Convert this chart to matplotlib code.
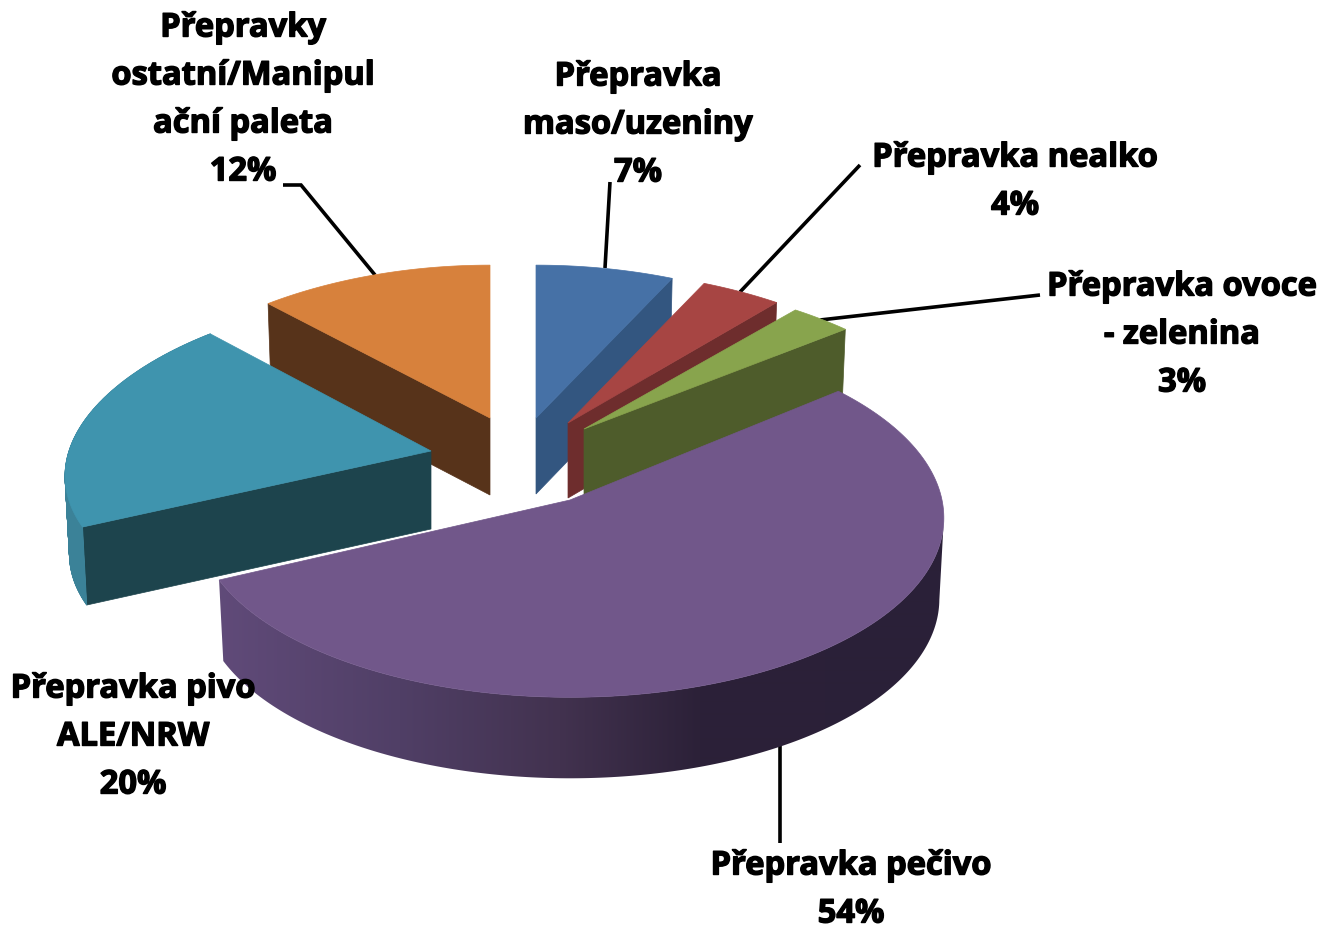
import numpy as np
import matplotlib
matplotlib.use("Agg")
import matplotlib.pyplot as plt
from matplotlib.patches import Polygon
from matplotlib.collections import PolyCollection
from matplotlib.colors import to_rgb
import matplotlib.patheffects as pe

# Data (clockwise from 12 o'clock)
names = ["Přepravka\nmaso/uzeniny", "Přepravka nealko", "Přepravka ovoce\n- zelenina",
         "Přepravka pečivo", "Přepravka pivo\nALE/NRW", "Přepravky\nostatní/Manipul\nační paleta"]
values = [7, 4, 3, 54, 20, 12]

# Styles
top_colors = ["#4671a6", "#a74543", "#88a44d", "#71578a", "#3f94ae", "#d7813c"]
wall_colors = ["#335680", "#6e2d2d", "#4e5c2b", "#2a2038", "#1d444d", "#57331a"]
apex_x = [536, 568, 584, 570, 431, 490]
apex_y = [418, 423, 429, 500, 451, 418]
radius_x = [370, 370, 375, 372, 362, 364]
radius_y = [168, 168, 166, 181, 172, 168]
perspective = [0.15, 0.15, 0.15, 0.10, 0.15, 0.15]
depths = [76, 75, 75, 81, 78, 77]
cut_edge = ["end", "end", "end", None, "start", "start"]   # the visible cut face
draw_order = [0, 5, 1, 2, 4, 3]
label_xy = [(638, 125), (1015, 182), (1182, 335), (851, 890), (133, 737), (243, 100)]
leaders = [[(610, 182), (605, 268)],
           [(860, 165), (740, 292)],
           [(1040, 295), (820, 320)],
           [(780, 745), (780, 843)],
           None,
           [(283, 185), (301, 185), (375, 275)]]

Q, SHRINK = 0.09, 0.012

fig = plt.figure(figsize=(13.22, 9.31), dpi=100, facecolor="white")
ax = fig.add_axes([0, 0, 1, 1])


def rim(i, t):
    """Projected rim point of slice i at clockwise angle t (radians from top)."""
    x = apex_x[i] + radius_x[i] * np.sin(t) * (1 - perspective[i] * np.cos(t))
    y = apex_y[i] - radius_y[i] * np.cos(t) * (1 - Q * np.cos(t))
    return x, y


def lower(i, x, y):
    return x + (apex_x[i] - x) * SHRINK, y + depths[i]


fractions = np.array(values) / sum(values)
bounds = np.concatenate([[0], np.cumsum(fractions)]) * 2 * np.pi

purple_grad = [(210, "#614b7a"), (400, "#503f66"), (560, "#42324f"),
               (700, "#2c2138"), (950, "#2a2038")]

for z, i in enumerate(draw_order):
    t0, t1 = bounds[i], bounds[i + 1]
    ts = np.linspace(t0, t1, 240)
    xs, ys = rim(i, ts)
    bx, by = lower(i, xs, ys)
    base = 10 + z * 3

    # cut face
    if cut_edge[i]:
        ex, ey = (xs[-1], ys[-1]) if cut_edge[i] == "end" else (xs[0], ys[0])
        lx, ly = lower(i, ex, ey)
        ax.add_patch(Polygon([(apex_x[i], apex_y[i]), (ex, ey), (lx, ly),
                              (apex_x[i], apex_y[i] + depths[i])],
                             closed=True, facecolor=wall_colors[i],
                             edgecolor=wall_colors[i], lw=0.5, zorder=base))

    # outer wall
    if i == 3:
        mask = ts >= ts[np.argmax(xs)]
        wall = np.column_stack([np.r_[xs[mask], bx[mask][::-1]],
                                np.r_[ys[mask], by[mask][::-1]]])
        clip = Polygon(wall, closed=True, transform=ax.transData, facecolor="none", edgecolor="none")
        ax.add_patch(clip)
        gx = np.linspace(210, 950, 740)
        rgb = np.array([to_rgb(s[1]) for s in purple_grad])
        stops = [s[0] for s in purple_grad]
        img = np.stack([np.interp(gx, stops, rgb[:, k]) for k in range(3)], axis=-1)[None, :, :]
        im = ax.imshow(img, extent=(210, 950, 800, 400), aspect="auto",
                       interpolation="bilinear", zorder=base + 1)
        im.set_clip_path(clip)
    elif i == 4:
        quads = [[(xs[a], ys[a]), (xs[a + 1], ys[a + 1]), (bx[a + 1], by[a + 1]), (bx[a], by[a])]
                 for a in range(len(xs) - 1)]
        ax.add_collection(PolyCollection(quads, facecolors="#3b8298", edgecolors="#3b8298",
                                         linewidths=0.6, zorder=base + 1))

    # top face
    ax.add_patch(Polygon(np.column_stack([np.r_[apex_x[i], xs], np.r_[apex_y[i], ys]]),
                         closed=True, facecolor=top_colors[i], edgecolor=top_colors[i],
                         lw=0.5, zorder=base + 2))

# Leader lines
for pts in leaders:
    if pts:
        p = np.array(pts)
        ax.plot(p[:, 0], p[:, 1], color="black", lw=2.6, zorder=5,
                solid_joinstyle="miter", solid_capstyle="butt")

# Labels
for name, v, (x, y) in zip(names, values, label_xy):
    ax.text(x, y, f"{name}\n{v}%", ha="center", va="center", multialignment="center",
            family=["Open Sans", "DejaVu Sans"], fontweight="bold", fontsize=23.5,
            linespacing=1.6, color="black", zorder=50,
            path_effects=[pe.withStroke(linewidth=1.0, foreground="black")])

ax.set_xlim(0, 1322)
ax.set_ylim(931, 0)
ax.axis("off")
fig.savefig("out.png", dpi=100, facecolor="white")
